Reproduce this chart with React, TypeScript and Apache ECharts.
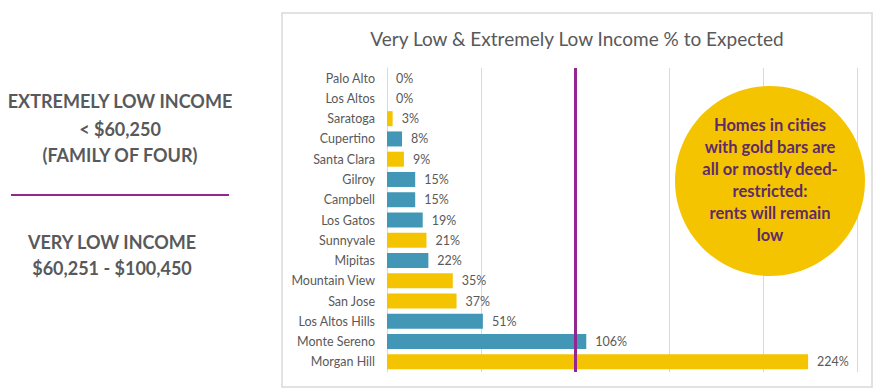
import React, { useEffect, useRef } from "react";
import * as echarts from "echarts";

const categories = [
  "Palo Alto", "Los Altos", "Saratoga", "Cupertino", "Santa Clara", "Gilroy", "Campbell",
  "Los Gatos", "Sunnyvale", "Mipitas", "Mountain View", "San Jose", "Los Altos Hills",
  "Monte Sereno", "Morgan Hill",
];
const values = [0, 0, 3, 8, 9, 15, 15, 19, 21, 22, 35, 37, 51, 106, 224];
const deedRestricted = [false, false, true, false, true, false, false, false, true, false, true, true, false, false, true];
const xTicks = [0, 50, 100, 150, 200, 250];
const expectedLine = 100;

const TEAL = "#4197B5";
const GOLD = "#F5C400";
const PURPLE = "#93278F";
const GREY = "#595959";

function leftText(text: string, x: number, y: number) {
  return {
    type: "text",
    x,
    y,
    style: {
      text,
      fill: "#58595B",
      fontSize: 18,
      fontWeight: "bold",
      fontFamily: "Lato",
      align: "center",
      verticalAlign: "middle",
      textAlign: "center",
      textVerticalAlign: "middle",
    },
  };
}

export default function App() {
  const ref = useRef<HTMLDivElement>(null);
  useEffect(() => {
    document.body.style.margin = "0";
    const chart = echarts.init(ref.current!, null, { renderer: "svg" });
    chart.setOption({
      animation: false,
      grid: { left: 387, right: 20, top: 68, bottom: 19, containLabel: false },
      xAxis: {
        type: "value",
        min: xTicks[0],
        max: xTicks[xTicks.length - 1],
        interval: 50,
        axisLabel: { show: false },
        axisLine: { show: false },
        axisTick: { show: false },
        splitLine: { lineStyle: { color: "#d9d9d9", width: 1 } },
      },
      yAxis: {
        type: "category",
        inverse: true,
        data: categories,
        axisTick: { show: false },
        axisLine: { show: true, lineStyle: { color: "#d9d9d9", width: 1 } },
        axisLabel: { color: GREY, fontSize: 12.5, fontFamily: "Lato", margin: 12 },
      },
      series: [
        {
          type: "bar",
          barCategoryGap: "26%",
          data: values.map((v, i) => ({
            value: v,
            itemStyle: { color: deedRestricted[i] ? GOLD : TEAL },
          })),
          label: {
            show: true,
            position: "right",
            distance: 9,
            color: GREY,
            fontSize: 12.5,
            fontFamily: "Lato",
            formatter: "{c}%",
          },
          markLine: {
            silent: true,
            symbol: "none",
            label: { show: false },
            lineStyle: { color: PURPLE, width: 3, type: "solid" },
            data: [{ xAxis: expectedLine }],
          },
        },
      ],
      graphic: [
        {
          type: "rect",
          z: -10,
          shape: { x: 282, y: 13, width: 590, height: 374 },
          style: { fill: "#fff", stroke: "#d9d9d9", lineWidth: 1.5 },
        },
        {
          type: "text",
          x: 577,
          y: 38,
          style: {
            text: "Very Low & Extremely Low Income % to Expected",
            fill: GREY,
            fontSize: 19,
            fontFamily: "Lato",
            align: "center",
            verticalAlign: "middle",
            textAlign: "center",
            textVerticalAlign: "middle",
          },
        },
        {
          type: "circle",
          z: 10,
          shape: { cx: 770, cy: 181, r: 95 },
          style: { fill: GOLD },
        },
        {
          type: "text",
          z: 11,
          x: 770,
          y: 180,
          style: {
            text: "Homes in cities\nwith gold bars are\nall or mostly deed-\nrestricted:\nrents will remain\nlow",
            fill: "#5E2B6B",
            fontSize: 16.5,
            fontWeight: "bold",
            fontFamily: "Lato",
            lineHeight: 22,
            align: "center",
            verticalAlign: "middle",
            textAlign: "center",
            textVerticalAlign: "middle",
          },
        },
        leftText("EXTREMELY LOW INCOME", 120, 101),
        leftText("< $60,250", 120, 129),
        leftText("(FAMILY OF FOUR)", 120, 155),
        {
          type: "line",
          shape: { x1: 11, y1: 195, x2: 229, y2: 195 },
          style: { stroke: PURPLE, lineWidth: 2 },
        },
        leftText("VERY LOW INCOME", 112, 242),
        leftText("$60,251 - $100,450", 112, 268),
      ],
    });
    return () => chart.dispose();
  }, []);
  return <div ref={ref} style={{ width: 877, height: 391 }} />;
}
